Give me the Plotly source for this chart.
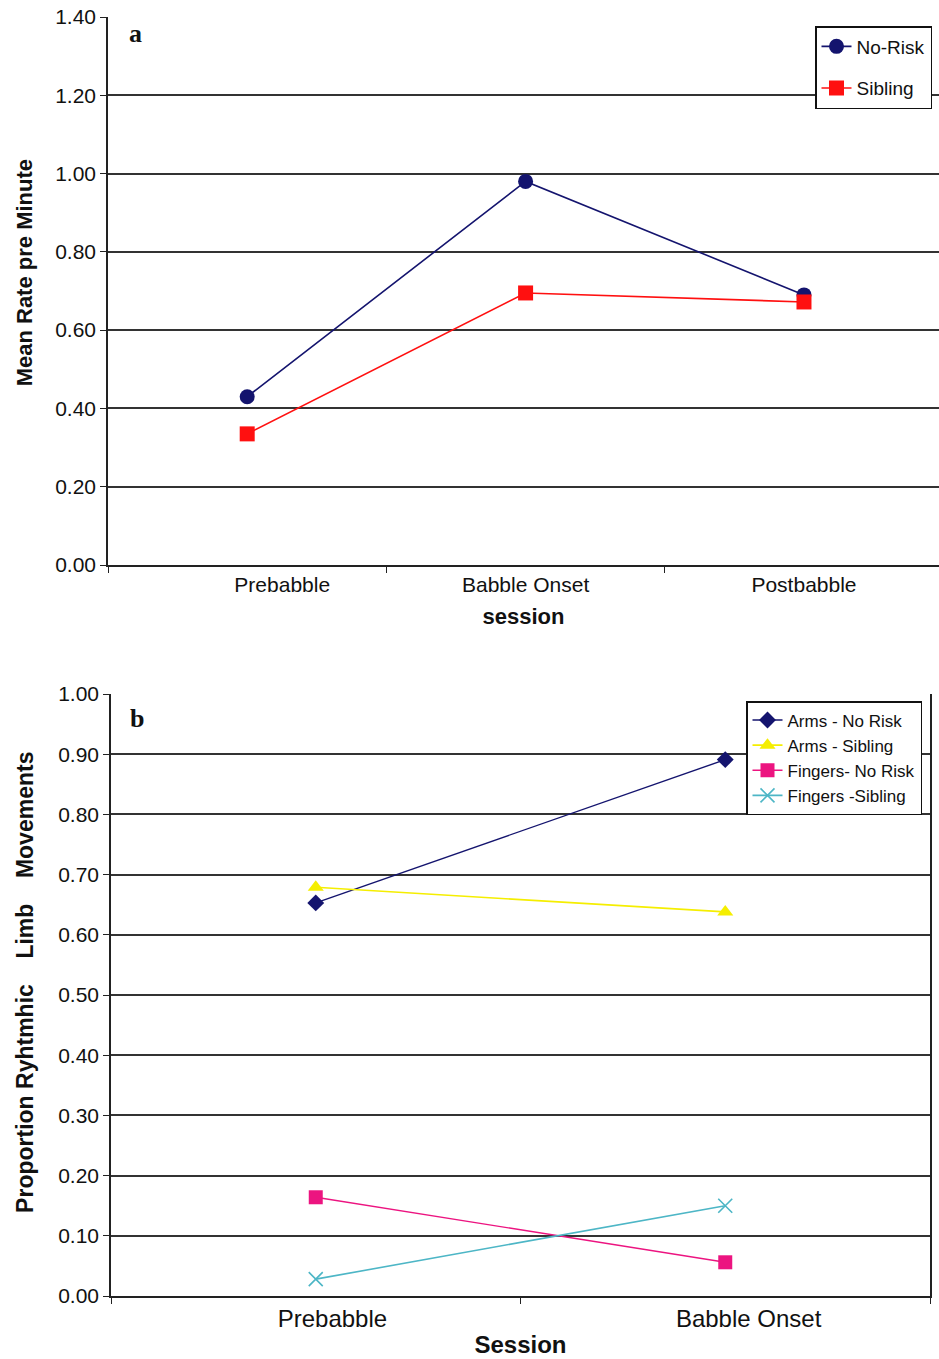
import plotly.graph_objects as go

NB = "\u00a0"

# Panel a data
sessions_a = ["Prebabble", "Babble Onset", "Postbabble"]
no_risk = [0.43, 0.98, 0.69]
sibling = [0.335, 0.695, 0.672]
ticks_a = [0.0, 0.2, 0.4, 0.6, 0.8, 1.0, 1.2, 1.4]

# Panel b data
sessions_b = ["Prebabble", "Babble Onset"]
arms_no_risk = [0.653, 0.891]
arms_sibling = [0.679, 0.638]
fingers_no_risk = [0.164, 0.056]
fingers_sibling = [0.028, 0.150]
ticks_b = [0.0, 0.1, 0.2, 0.3, 0.4, 0.5, 0.6, 0.7, 0.8, 0.9, 1.0]

W, H = 939, 1359
FONT = "Liberation Sans, Arial, sans-serif"

fig = go.Figure()

fig.add_trace(go.Scatter(x=sessions_a, y=no_risk, name="No-Risk", mode="lines+markers",
                         line=dict(color="#14146e", width=1.6),
                         marker=dict(symbol="circle", size=15, color="#14146e"),
                         xaxis="x", yaxis="y", legend="legend", legendgroup="a1"))
fig.add_trace(go.Scatter(x=sessions_a, y=sibling, name="Sibling", mode="lines+markers",
                         line=dict(color="#ff1010", width=1.6),
                         marker=dict(symbol="square", size=15, color="#ff1010"),
                         xaxis="x", yaxis="y", legend="legend", legendgroup="a2"))

fig.add_trace(go.Scatter(x=sessions_b, y=arms_no_risk, name="Arms - No Risk", mode="lines+markers",
                         line=dict(color="#14146e", width=1.4),
                         marker=dict(symbol="diamond", size=13, color="#14146e"),
                         xaxis="x2", yaxis="y2", legend="legend2"))
fig.add_trace(go.Scatter(x=sessions_b, y=arms_sibling, name="Arms - Sibling", mode="lines+markers",
                         line=dict(color="#f5ee00", width=1.6),
                         marker=dict(symbol="triangle-up", size=14, color="#f5ee00"),
                         xaxis="x2", yaxis="y2", legend="legend2"))
fig.add_trace(go.Scatter(x=sessions_b, y=fingers_no_risk, name="Fingers- No Risk", mode="lines+markers",
                         line=dict(color="#ec1480", width=1.4),
                         marker=dict(symbol="square", size=14, color="#ec1480"),
                         xaxis="x2", yaxis="y2", legend="legend2"))
fig.add_trace(go.Scatter(x=sessions_b, y=fingers_sibling, name="Fingers -Sibling", mode="lines+markers",
                         line=dict(color="#4db6c6", width=1.6),
                         marker=dict(symbol="x-thin", size=14, color="#4db6c6",
                                     line=dict(color="#4db6c6", width=1.6)),
                         xaxis="x2", yaxis="y2", legend="legend2"))

axis_common = dict(showgrid=False, zeroline=False, showline=True, linecolor="#222",
                   linewidth=1.5, ticks="outside", ticklen=6, tickcolor="#222",
                   automargin=False,
                   tickfont=dict(family=FONT, size=21, color="#111"))

fig.update_layout(
    width=W, height=H, margin=dict(l=0, r=0, t=0, b=0, autoexpand=False),
    paper_bgcolor="white", plot_bgcolor="white",
    font=dict(family=FONT, color="#111"),
    xaxis=dict(axis_common, domain=[108 / W, 1.0], anchor="y", type="category",
               range=[-0.5, 2.485], tickson="boundaries",
               tickmode="array", tickvals=sessions_a,
               ticktext=[NB * 12 + sessions_a[0], sessions_a[1], sessions_a[2]],
               title=dict(text="<b>session</b>", standoff=14,
                          font=dict(family=FONT, size=22, color="#111"))),
    yaxis=dict(axis_common, domain=[1 - 565 / H, 1 - 17 / H], anchor="x",
               range=[0, 1.4], tickvals=ticks_a, tickformat=".2f",
               showgrid=True, gridcolor="#333", gridwidth=1.5,
               title=dict(text="<b>" + NB * 6 + "Mean Rate pre Minute</b>", standoff=16,
                          font=dict(family=FONT, size=22, color="#111"))),
    xaxis2=dict(axis_common, domain=[111 / W, 930 / W], anchor="y2", type="category",
                range=[-0.5, 1.5], tickson="boundaries",
                tickmode="array", tickvals=sessions_b,
                ticktext=[NB * 5 + sessions_b[0], NB * 7 + sessions_b[1]],
                tickfont=dict(family=FONT, size=24, color="#111"),
                title=dict(text="<b>Session</b>", standoff=6,
                           font=dict(family=FONT, size=24, color="#111"))),
    yaxis2=dict(axis_common, domain=[1 - 1296 / H, 1 - 694 / H], anchor="x2",
                range=[0, 1.0], tickvals=ticks_b, tickformat=".2f", mirror=True,
                showgrid=True, gridcolor="#333", gridwidth=1.5,
                title=dict(text="<b>" + NB * 4 + "Proportion Ryhtmhic" + NB * 4 + "Limb" + NB * 4 + "Movements</b>",
                           standoff=18, font=dict(family=FONT, size=23, color="#111"))),
    legend=dict(x=815 / W, y=1 - 26 / H, xanchor="left", yanchor="top",
                bgcolor="white", bordercolor="#111", borderwidth=1.5,
                font=dict(family=FONT, size=19, color="#111"),
                traceorder="grouped", tracegroupgap=14, itemwidth=30),
    legend2=dict(x=746 / W, y=1 - 701 / H, xanchor="left", yanchor="top",
                 bgcolor="white", bordercolor="#111", borderwidth=1.5,
                 font=dict(family=FONT, size=17, color="#111"),
                 tracegroupgap=0, itemwidth=30),
    showlegend=True,
)

fig.add_annotation(text="<b>a</b>", xref="paper", yref="paper",
                   x=135 / W, y=1 - 33 / H, xanchor="center", yanchor="middle", showarrow=False,
                   font=dict(family="Liberation Serif, Times New Roman, serif", size=26, color="#111"))
fig.add_annotation(text="<b>b</b>", xref="paper", yref="paper",
                   x=137 / W, y=1 - 718 / H, xanchor="center", yanchor="middle", showarrow=False,
                   font=dict(family="Liberation Serif, Times New Roman, serif", size=26, color="#111"))

fig.write_html("out.html", config={"displayModeBar": False},
               post_script="document.body.style.margin='0';document.body.style.padding='0';")
